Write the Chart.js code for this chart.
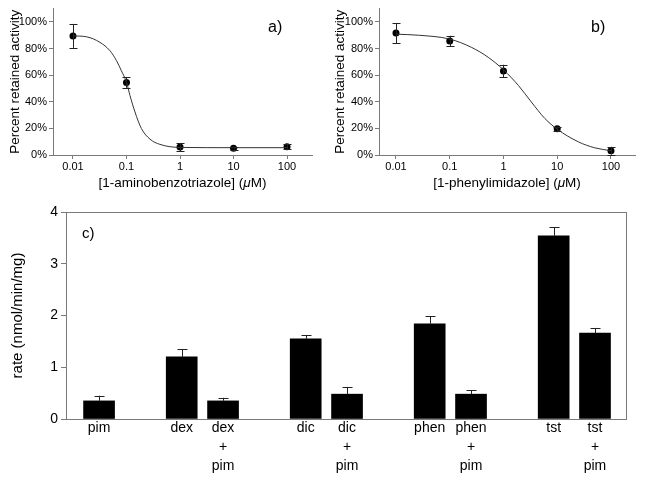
<!DOCTYPE html>
<html>
<head>
<meta charset="utf-8">
<script src="https://cdn.jsdelivr.net/npm/chart.js@4.4.0/dist/chart.umd.min.js"></script>
<style>
  body { margin: 0; background: #fff; }
  .panel { position: absolute; }
  #wrapA { left: 0; top: 0; width: 320px; height: 195px; }
  #wrapB { left: 320px; top: 0; width: 325px; height: 195px; }
  #wrapC { left: 0; top: 195px; width: 645px; height: 287px; }
</style>
</head>
<body>
<div class="panel" id="wrapA"><canvas id="chartA"></canvas></div>
<div class="panel" id="wrapB"><canvas id="chartB"></canvas></div>
<div class="panel" id="wrapC"><canvas id="chartC"></canvas></div>
<script>
// concentrations (uM) tested in panels a and b
const concentrations = [0.01, 0.1, 1, 10, 100];
const percentTicks = [0, 20, 40, 60, 80, 100];

// a) 1-aminobenzotriazole
const abtMean = [89.5, 54.5, 6, 5, 6.2];
const abtErr = [9, 4, 3, 1, 2];
const abtCurveX = [0.01, 0.018, 0.032, 0.049, 0.065, 0.08, 0.1, 0.116, 0.144, 0.19, 0.275, 0.42, 1, 10, 100];
const abtCurveY = [89.5, 88.8, 84.6, 78.4, 70.9, 63.4, 54.7, 44.8, 32.3, 19.9, 11.9, 8.0, 5.7, 5.5, 5.5];

// b) 1-phenylimidazole
const phiMean = [91.6, 85.6, 63.2, 19.7, 3.2];
const phiErr = [7.5, 4, 4.6, 1.5, 3];
const phiCurveX = [0.01, 0.026, 0.1, 0.256, 0.52, 1, 1.9, 3.3, 5.9, 10, 24.7, 50, 100];
const phiCurveY = [90.8, 90.0, 87.1, 80.8, 73.4, 64, 52.2, 39.8, 27.4, 19.4, 9.9, 5.4, 3.2];

// c) rates, empty strings are gaps between groups
const rateCategories = ['pim', '', 'dex', 'dex + pim', '', 'dic', 'dic + pim', '', 'phen', 'phen + pim', '', 'tst', 'tst + pim'];
const rateValues = [0.35, null, 1.2, 0.35, null, 1.55, 0.48, null, 1.84, 0.48, null, 3.54, 1.66];
const rateErrors = [0.10, null, 0.15, 0.06, null, 0.07, 0.14, null, 0.15, 0.08, null, 0.17, 0.10];
const rateTicks = [0, 1, 2, 3, 4];

const FONT = '"Liberation Sans", Arial, Helvetica, sans-serif';
const AXIS = '#7a7a7a';
Chart.defaults.font.family = FONT;
Chart.defaults.color = '#000';
Chart.defaults.animation = false;

// draws error bars for one dataset through the chart's y scale
function errorBars(datasetIndex, means, errs, capHalf, upperOnly) {
    return {
        id: 'errorBars',
        afterDatasetsDraw(chart) {
            const ctx = chart.ctx;
            const y = chart.scales.y;
            const meta = chart.getDatasetMeta(datasetIndex);
            ctx.save();
            ctx.strokeStyle = '#222';
            ctx.lineWidth = 1;
            meta.data.forEach((el, i) => {
                if (means[i] == null) return;
                const top = y.getPixelForValue(means[i] + errs[i]);
                const bottom = y.getPixelForValue(upperOnly ? means[i] : means[i] - errs[i]);
                const x = Math.round(el.x) + 0.5;
                ctx.beginPath();
                ctx.moveTo(x, bottom);
                ctx.lineTo(x, top);
                ctx.moveTo(x - capHalf, Math.round(top) + 0.5);
                ctx.lineTo(x + capHalf, Math.round(top) + 0.5);
                if (!upperOnly) {
                    ctx.moveTo(x - capHalf, Math.round(bottom) + 0.5);
                    ctx.lineTo(x + capHalf, Math.round(bottom) + 0.5);
                }
                ctx.stroke();
            });
            ctx.restore();
        }
    };
}

// panel letter in the plot
function panelLabel(text, dx, dy, size) {
    return {
        id: 'panelLabel',
        afterDraw(chart) {
            const ctx = chart.ctx;
            const area = chart.chartArea;
            ctx.save();
            ctx.font = size + 'px ' + FONT;
            ctx.fillStyle = '#000';
            ctx.textBaseline = 'middle';
            ctx.textAlign = 'left';
            ctx.fillText(text, dx < 0 ? area.right + dx : area.left + dx, area.top + dy);
            ctx.restore();
        }
    };
}

// x title with an italic mu
function concTitle(name) {
    return {
        id: 'concTitle',
        afterDraw(chart) {
            const ctx = chart.ctx;
            const area = chart.chartArea;
            const parts = [['[' + name + '] (', 'normal'], ['\u03bc', 'italic'], ['M)', 'normal']];
            ctx.save();
            ctx.fillStyle = '#000';
            ctx.textBaseline = 'middle';
            ctx.textAlign = 'left';
            let total = 0;
            parts.forEach(p => {
                ctx.font = p[1] + ' 13.5px ' + FONT;
                total += ctx.measureText(p[0]).width;
            });
            let x = (area.left + area.right) / 2 - total / 2;
            const y = area.bottom + 28;
            parts.forEach(p => {
                ctx.font = p[1] + ' 13.5px ' + FONT;
                ctx.fillText(p[0], x, y);
                x += ctx.measureText(p[0]).width;
            });
            ctx.restore();
        }
    };
}

const frame = {
    id: 'frame',
    afterDraw(chart) {
        const ctx = chart.ctx;
        const a = chart.chartArea;
        ctx.save();
        ctx.strokeStyle = AXIS;
        ctx.lineWidth = 1;
        ctx.strokeRect(Math.round(a.left) + 0.5, Math.round(a.top) + 0.5,
            Math.round(a.right - a.left), Math.round(a.bottom - a.top));
        ctx.restore();
    }
};

function doseChart(id, name, mean, err, curveX, curveY, opts) {
    const ctx = document.getElementById(id).getContext('2d');
    return new Chart(ctx, {
        type: 'line',
        data: {
            datasets: [
                {
                    label: 'fit',
                    data: curveX.map((x, i) => ({ x: x, y: curveY[i] })),
                    borderColor: '#333',
                    borderWidth: 1,
                    pointRadius: 0,
                    cubicInterpolationMode: 'monotone',
                    fill: false
                },
                {
                    label: 'measured',
                    data: concentrations.map((x, i) => ({ x: x, y: mean[i] })),
                    showLine: false,
                    pointRadius: 3.5,
                    pointBackgroundColor: '#000',
                    pointBorderColor: '#000',
                    pointBorderWidth: 0
                }
            ]
        },
        options: {
            responsive: true,
            maintainAspectRatio: false,
            layout: { padding: { left: opts.padLeft, right: opts.padRight, top: 7, bottom: 0 } },
            plugins: { legend: { display: false }, tooltip: { enabled: false } },
            scales: {
                x: {
                    type: 'logarithmic',
                    min: opts.xMin,
                    max: opts.xMax,
                    border: { display: true, color: AXIS },
                    grid: { drawOnChartArea: false, color: AXIS, tickLength: 4 },
                    afterBuildTicks: (scale) => { scale.ticks = concentrations.map(v => ({ value: v })); },
                    afterFit: (scale) => { scale.height = 40; },
                    ticks: {
                        font: { size: 11 },
                        padding: 1,
                        maxRotation: 0,
                        autoSkip: false,
                        callback: (v) => String(v)
                    }
                },
                y: {
                    min: 0,
                    max: 110,
                    border: { display: true, color: AXIS },
                    grid: { drawOnChartArea: false, color: AXIS, tickLength: 4 },
                    afterBuildTicks: (scale) => { scale.ticks = percentTicks.map(v => ({ value: v })); },
                    afterFit: (scale) => { scale.width = opts.yWidth; },
                    ticks: { font: { size: 11 }, padding: 2, callback: (v) => v + '%' },
                    title: { display: true, text: 'Percent retained activity', font: { size: 13.5 }, padding: { top: 4, bottom: 2 } }
                }
            }
        },
        plugins: [errorBars(1, mean, err, 4, false), panelLabel(opts.letter, -44, 19, 16), concTitle(name)]
    });
}

doseChart('chartA', '1-aminobenzotriazole', abtMean, abtErr, abtCurveX, abtCurveY,
    { padLeft: 3, padRight: 8, yWidth: 50, xMin: 0.00423, xMax: 293, letter: 'a)' });
doseChart('chartB', '1-phenylimidazole', phiMean, phiErr, phiCurveX, phiCurveY,
    { padLeft: 8, padRight: 10, yWidth: 51, xMin: 0.00483, xMax: 280, letter: 'b)' });

// c) bar chart of rates
const ctxC = document.getElementById('chartC').getContext('2d');
new Chart(ctxC, {
    type: 'bar',
    data: {
        datasets: [{
            label: 'rate',
            data: rateValues.map((v, i) => ({ x: i, y: v })),
            backgroundColor: '#000',
            borderWidth: 0,
            barThickness: 31
        }]
    },
    options: {
        responsive: true,
        maintainAspectRatio: false,
        layout: { padding: { left: 5, right: 19, top: 17, bottom: 0 } },
        plugins: { legend: { display: false }, tooltip: { enabled: false } },
        scales: {
            x: {
                type: 'linear',
                min: -0.8,
                max: 12.75,
                offset: false,
                border: { display: false },
                grid: { display: false },
                afterBuildTicks: (scale) => {
                    scale.ticks = rateCategories.map((c, i) => ({ value: i })).filter(t => rateCategories[t.value] !== '');
                },
                afterFit: (scale) => { scale.height = 63; },
                ticks: {
                    font: { size: 14, lineHeight: 1.35 },
                    padding: -8,
                    maxRotation: 0,
                    autoSkip: false,
                    callback: (v) => rateCategories[v].split(' ')
                }
            },
            y: {
                min: 0,
                max: 4,
                border: { display: true, color: AXIS },
                grid: { drawOnChartArea: false, color: AXIS, tickLength: 5 },
                afterBuildTicks: (scale) => { scale.ticks = rateTicks.map(v => ({ value: v })); },
                afterFit: (scale) => { scale.width = 61; },
                ticks: { font: { size: 14 }, padding: 3 },
                title: { display: true, text: 'rate (nmol/min/mg)', font: { size: 15 }, padding: { top: 4, bottom: 2 } }
            }
        }
    },
    plugins: [errorBars(0, rateValues, rateErrors, 5, true), panelLabel('c)', 16, 22, 15), frame]
});
</script>
</body>
</html>
